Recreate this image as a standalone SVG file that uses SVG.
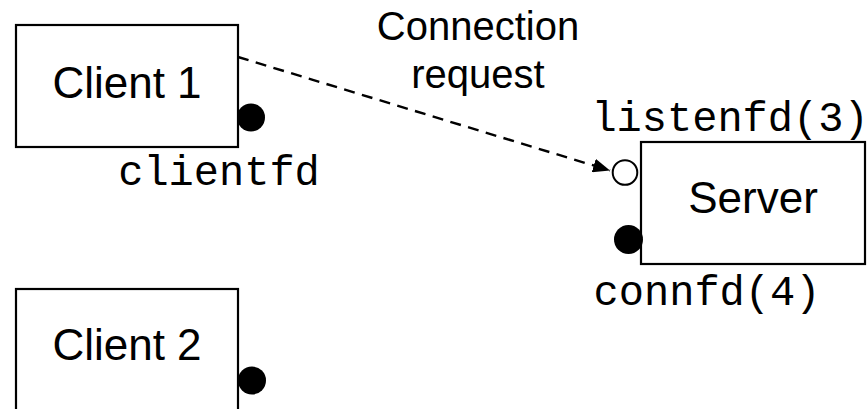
<svg xmlns="http://www.w3.org/2000/svg" width="867" height="409" viewBox="0 0 867 409">
  <style>
    .box { fill: #ffffff; stroke: #000000; stroke-width: 2.2; }
    .label { font-family: "Liberation Sans", Arial, sans-serif; font-size: 44px; fill: #000000; text-anchor: middle; }
    .edge-label { font-family: "Liberation Sans", Arial, sans-serif; font-size: 40px; fill: #000000; text-anchor: middle; }
    .fd { font-family: "Liberation Mono", "Courier New", monospace; font-size: 42px; fill: #000000; text-anchor: middle; }
    .sock { fill: #000000; }
    .sock-open { fill: #ffffff; stroke: #000000; stroke-width: 2; }
    .dashed { fill: none; stroke: #000000; stroke-width: 2.4; stroke-dasharray: 11 7.5; }
  </style>
  <defs>
    <marker id="arrow" markerUnits="userSpaceOnUse" markerWidth="18" markerHeight="14" refX="17" refY="7" orient="auto">
      <path d="M0,0 L17,7 L0,14 Z" fill="#000000"/>
    </marker>
  </defs>

  <rect width="867" height="409" fill="#ffffff"/>

  <!-- client 1 with its socket -->
  <g id="client1">
    <rect class="box" x="16" y="25" width="222" height="122"/>
    <text class="label" x="127" y="98">Client 1</text>
    <circle class="sock" cx="251" cy="117.5" r="14"/>
    <text class="fd" x="219" y="185">clientfd</text>
  </g>

  <!-- client 2 with its socket -->
  <g id="client2">
    <rect class="box" x="16" y="289" width="222" height="122"/>
    <text class="label" x="127" y="360">Client 2</text>
    <circle class="sock" cx="252" cy="380.5" r="14"/>
  </g>

  <!-- server with listening and connected sockets -->
  <g id="server">
    <rect class="box" x="641" y="142" width="224" height="122"/>
    <text class="label" x="753" y="213">Server</text>
    <circle class="sock-open" cx="625" cy="172.5" r="12.3"/>
    <text class="fd" x="730" y="131">listenfd(3)</text>
    <circle class="sock" cx="628.5" cy="239.5" r="14.5"/>
    <text class="fd" x="707" y="305">connfd(4)</text>
  </g>

  <!-- connection request from client 1 to the listening socket -->
  <g id="connectors">
    <line class="dashed" x1="238" y1="57" x2="610" y2="170.5" marker-end="url(#arrow)"/>
    <text class="edge-label" x="478" y="40">Connection</text>
    <text class="edge-label" x="478" y="88">request</text>
  </g>
</svg>
